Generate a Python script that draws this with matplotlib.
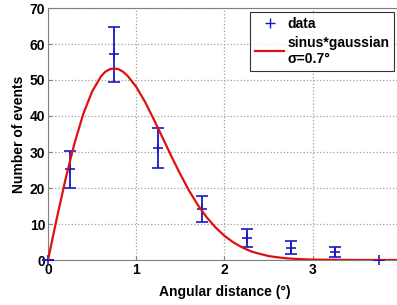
import numpy as np
import matplotlib
matplotlib.use('Agg')
import matplotlib.pyplot as plt
from matplotlib.lines import Line2D

plt.rcParams['font.family'] = ['Liberation Sans', 'DejaVu Sans']
plt.rcParams['font.weight'] = 'bold'

# Measured points with error bars
data_x = [0.0, 0.25, 0.75, 1.25, 1.75, 2.25, 2.75, 3.25, 3.75]
data_y = [0.0, 25.2, 57.1, 31.2, 14.2, 6.2, 3.4, 2.3, 0.0]
data_err = [0.0, 5.2, 7.6, 5.6, 3.6, 2.5, 1.8, 1.4, 0.0]

# Fitted curve
curve_x = [0.0, 0.1, 0.2, 0.3, 0.4, 0.5, 0.6, 0.65, 0.7, 0.75, 0.8, 0.85,
           0.9, 1.0, 1.1, 1.2, 1.3, 1.4, 1.5, 1.6, 1.7, 1.8, 1.9, 2.0,
           2.1, 2.2, 2.3, 2.4, 2.5, 2.6, 2.7, 2.8, 2.9, 3.0, 3.5, 4.0]
curve_y = [0.0, 11.6, 22.6, 32.4, 40.6, 46.8, 51.0, 52.3, 53.0, 53.2, 53.0, 52.3,
           51.2, 48.1, 43.9, 39.0, 33.9, 28.7, 23.8, 19.2, 15.2, 11.8, 9.0, 6.7,
           4.9, 3.5, 2.4, 1.7, 1.1, 0.75, 0.48, 0.31, 0.19, 0.11, 0.0, 0.0]

blue = '#1818c8'
red = '#e01010'

fig = plt.figure(figsize=(3.97, 3.05), dpi=100)
ax = fig.add_axes([48 / 397, 45 / 305, 353 / 397, 252 / 305])

ax.errorbar(data_x, data_y, yerr=data_err, fmt='+', color=blue,
            ecolor=blue, elinewidth=1.3, capsize=4.5, capthick=1.3,
            markersize=7, markeredgewidth=1.2, clip_on=False, zorder=3)
ax.plot(curve_x, curve_y, color=red, linewidth=1.6, zorder=4)

ax.set_xlim(0, 4)
ax.set_ylim(0, 70)
ax.set_xticks([0, 1, 2, 3])
ax.set_yticks(range(0, 71, 10))
ax.grid(True, linestyle=':', color='#a0a0a0', linewidth=0.9)
ax.tick_params(direction='in', length=3, labelsize=10, colors='#808080',
               labelcolor='black', pad=2)
for s in ax.spines.values():
    s.set_color('#808080')

ax.set_xlabel('Angular distance (\u00b0)', fontsize=10, fontweight='bold',
              labelpad=6)
ax.set_ylabel('Number of events', fontsize=10, fontweight='bold', labelpad=3)

handles = [Line2D([], [], linestyle='none', marker='+', color=blue,
                  markersize=7, markeredgewidth=1.0),
           Line2D([], [], color=red, linewidth=1.6)]
labels = ['data', 'sinus*gaussian\n\u03c3=0.7\u00b0']
leg = ax.legend(handles, labels, loc='upper right',
                bbox_to_anchor=(346 / 353, 0.985),
                fontsize=10, frameon=True, fancybox=False,
                edgecolor='black', handlelength=2.1, handletextpad=0.2,
                borderpad=0.35, labelspacing=0.35, borderaxespad=0)
leg.get_frame().set_linewidth(0.8)

fig.savefig('out.png', dpi=100)
